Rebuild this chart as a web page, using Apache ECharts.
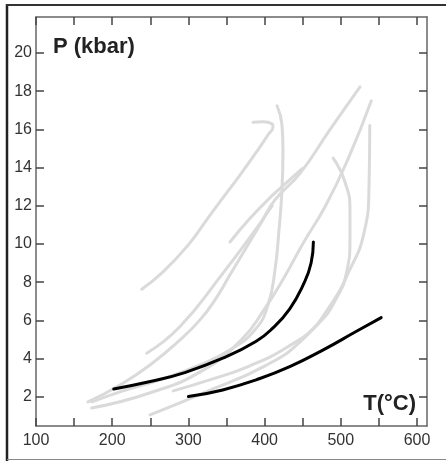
<!DOCTYPE html>
<html><head><meta charset="utf-8">
<script src="https://cdn.jsdelivr.net/npm/echarts@6/dist/echarts.min.js"></script>
<style>html,body{margin:0;padding:0;background:#fff}#c{width:446px;height:461px}</style>
</head><body><div id="c"></div>
<script>
const xTicks = [100,150,200,250,300,350,400,450,500,550,600];
const xLabels = [100,200,300,400,500,600];
const yTicks = [2,4,6,8,10,12,14,16,18,20];

const black1 = [[202,2.40],[250,2.79],[293,3.23],[345,4.01],[389,4.9],[411,5.6],[433,6.6],[450,7.8],[461,9.0],[464,10.1]];
const black2 = [[300,2.0],[345,2.35],[389,2.88],[433,3.57],[477,4.45],[520,5.41],[553,6.14]];

const grayA = [[238.7,7.63],[267.1,8.55],[299.9,9.95],[324,11.26],[341.5,12.22],[367.7,13.61],[391.3,14.93],[404.5,15.72],[411,16.14],[409.7,16.29],[397.9,16.40],[384.8,16.37]];
const grayB = [[168.2,1.72],[210.2,2.61],[249.6,3.66],[289,4.97],[315.2,6.02],[334.9,7.07],[354.6,8.38],[374.3,9.69],[394,11.0],[413.6,12.31],[446.5,13.7],[486,16.0],[525.2,18.23]];
const grayC = [[173,1.4],[250,2.2],[320,3.4],[370,5.0],[400,6.6],[425,8.2],[450,10],[480,12],[510,14.5],[540,17.5]];
const grayD = [[249.6,1.04],[320,2.2],[400,3.6],[450,5],[490,7],[510,8.5],[530,10.5],[537,13],[538,16.2]];
const grayE = [[354.6,10.1],[380,11.3],[404,12.3],[420,12.9],[449.3,13.95]];
const grayF = [[416.3,17.24],[422.8,16.24],[424.1,14.93],[422.8,12.83],[418.9,10.74],[413.6,8.64],[404.5,6.81],[387.4,5.5],[354.6,4.45],[315.2,3.66],[262.7,2.88],[210.2,2.25],[173.5,1.72]];
const grayG = [[490,14.5],[505,13.3],[512,11.8],[512,10.2],[508,8.6],[495,7.2],[470,5.8],[430,4.6],[380,3.6],[330,2.9],[280,2.3]];
const grayH = [[245.3,4.27],[289,5.67],[345.4,8.47],[380,10.3],[410,12.0]];

const grays = [grayA, grayB, grayC, grayD, grayE, grayF, grayG, grayH];

const chart = echarts.init(document.getElementById('c'), null, {renderer:'canvas'});
const axisCol = '#666';
const fontFam = '"Liberation Sans", Arial, sans-serif';
function mkSeries(d, col, z){
  return {type:'line', data:d, smooth:true, symbol:'none', xAxisIndex:0, yAxisIndex:0,
    lineStyle:{color:col, width:3, cap:'round'}, z:z, silent:true};
}
const series = grays.map(g => mkSeries(g, '#dadada', 2)).concat([mkSeries(black1,'#000',5), mkSeries(black2,'#000',5)]);
chart.setOption({
  animation:false,
  grid:{left:36, top:17, width:391, height:409, containLabel:false},
  xAxis:[
    {type:'value', min:100, max:613.1, position:'bottom',
     axisLine:{show:true, onZero:false, lineStyle:{color:axisCol, width:1.5}},
     axisTick:{show:true, inside:true, length:8, customValues:xTicks, lineStyle:{color:'#444', width:1.5}},
     axisLabel:{show:true, customValues:xLabels, margin:7, color:'#333', fontSize:16, fontFamily:fontFam},
     splitLine:{show:false}},
    {type:'value', min:100, max:613.1, position:'top',
     axisLine:{show:true, onZero:false, lineStyle:{color:axisCol, width:1.5}},
     axisTick:{show:true, inside:true, length:8, customValues:xTicks, lineStyle:{color:'#444', width:1.5}},
     axisLabel:{show:false}, splitLine:{show:false}}
  ],
  yAxis:[
    {type:'value', min:0.46, max:21.89, position:'left',
     axisLine:{show:true, onZero:false, lineStyle:{color:axisCol, width:1.5}},
     axisTick:{show:true, inside:true, length:8, customValues:yTicks, lineStyle:{color:'#444', width:1.5}},
     axisLabel:{show:true, customValues:yTicks, margin:4, color:'#333', fontSize:16, fontFamily:fontFam},
     splitLine:{show:false}},
    {type:'value', min:0.46, max:21.89, position:'right',
     axisLine:{show:true, onZero:false, lineStyle:{color:axisCol, width:1.5}},
     axisTick:{show:true, inside:true, length:8, customValues:yTicks, lineStyle:{color:'#444', width:1.5}},
     axisLabel:{show:false}, splitLine:{show:false}}
  ],
  series: series,
  graphic:[
    {type:'line', shape:{x1:7, y1:4, x2:7, y2:461}, style:{stroke:'#222', lineWidth:2.5}},
    {type:'line', shape:{x1:6, y1:5, x2:446, y2:5}, style:{stroke:'#333', lineWidth:2}},
    {type:'line', shape:{x1:7, y1:459.5, x2:446, y2:459.5}, style:{stroke:'#888', lineWidth:1}},
    {type:'text', left:53, top:36, style:{text:'P (kbar)', font:'bold 22px ' + fontFam, fill:'#222'}},
    {type:'text', right:30, top:393, style:{text:'T(°C)', font:'bold 22px ' + fontFam, fill:'#222'}}
  ]
});
</script></body></html>
